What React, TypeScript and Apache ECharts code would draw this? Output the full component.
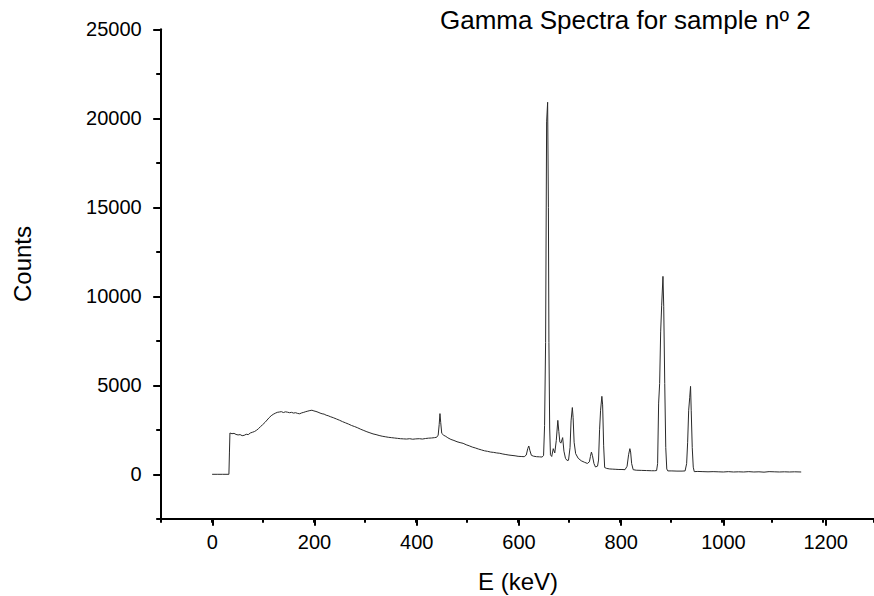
import React, { useEffect, useRef } from "react";
import * as echarts from "echarts";

const titleText = "Gamma Spectra for sample nº 2";
const xName = "E (keV)";
const yName = "Counts";

const energy = [
  0, 10, 20, 33, 34, 35, 39, 43, 47, 51, 55, 59, 63, 67, 71, 75, 79, 83, 87, 91,
  95, 99, 104, 108, 112, 116, 120, 124, 128, 132, 136, 140, 144, 148, 152, 156, 160, 164, 168, 172,
  176, 180, 184, 188, 192, 196, 200, 204, 208, 212, 216, 220, 224, 228, 232, 238, 244, 250, 256, 262,
  268, 274, 280, 286, 292, 298, 304, 310, 316, 322, 328, 334, 340, 346, 352, 358, 364, 370, 376, 382,
  388, 394, 400, 407, 413, 419, 425, 431, 437, 441, 444, 446, 447.5, 449, 451, 455, 459, 463, 469, 475,
  481, 487, 493, 499, 505, 511, 517, 523, 529, 535, 541, 547, 553, 559, 565, 571, 577, 583, 589, 595,
  601, 607, 613, 617, 620, 622, 624, 627, 631, 637, 643, 648, 651, 653, 655, 657, 659, 660.5, 661.5, 663,
  664.5, 667, 670, 673, 676, 679, 681, 683, 685, 688.5, 691, 694, 697, 700, 703, 705, 707.5, 709, 711, 714,
  719, 725, 731, 737, 741, 743, 745, 747, 750, 753, 757, 759, 761, 763, 765.5, 767, 769, 771, 775, 781,
  787, 793, 799, 805, 811, 815, 818, 820.5, 822, 824, 827, 833, 843, 853, 863, 869, 873, 875, 877, 879,
  881, 883, 885.5, 887, 889, 891, 893, 895, 903, 913, 923, 929, 932, 934, 936, 938, 939.7, 941, 943, 945,
  947, 954, 964, 974, 984, 994, 1004, 1014, 1024, 1034, 1044, 1054, 1064, 1074, 1084, 1094, 1104, 1114, 1124, 1134,
  1144, 1157,
];

const counts = [
  0, 0, 0, 0, 1200, 2320, 2280, 2300, 2240, 2210, 2230, 2170, 2190, 2250, 2230, 2320, 2360, 2400, 2470, 2560,
  2680, 2780, 2920, 3050, 3180, 3290, 3370, 3430, 3480, 3500, 3520, 3470, 3510, 3490, 3460, 3480, 3440, 3460, 3420, 3400,
  3450, 3480, 3520, 3550, 3580, 3600, 3560, 3530, 3490, 3440, 3400, 3380, 3320, 3290, 3240, 3180, 3110, 3040, 2960, 2890,
  2820, 2740, 2680, 2610, 2530, 2460, 2390, 2330, 2270, 2230, 2180, 2140, 2110, 2080, 2060, 2040, 2020, 2000, 1990, 1980,
  2000, 1970, 1990, 2000, 1980, 2010, 2030, 2040, 2060, 2080, 2200, 2800, 3410, 2900, 2300, 2190, 2130, 2050, 1960, 1900,
  1830, 1780, 1740, 1660, 1600, 1530, 1480, 1420, 1370, 1320, 1290, 1250, 1230, 1200, 1180, 1140, 1110, 1080, 1060, 1040,
  1010, 1000, 990, 1080, 1450, 1590, 1350, 1070, 1020, 990, 980, 970, 1050, 2750, 7400, 19800, 20900, 15000, 7400, 2600,
  1100, 1000, 1440, 1200, 1900, 3030, 2400, 1820, 1750, 2060, 1300, 900, 780, 790, 1500, 3000, 3750, 3200, 1800, 1160,
  900, 760, 680, 610, 700, 1000, 1250, 1050, 600, 410, 460, 800, 2500, 3600, 4380, 3900, 1600, 380, 330, 300,
  290, 280, 270, 270, 260, 450, 1100, 1440, 1250, 600, 260, 230, 220, 210, 200, 200, 210, 600, 4000, 5100,
  8000, 9500, 11120, 9440, 5100, 1500, 300, 190, 190, 180, 180, 190, 600, 1800, 3600, 4300, 4940, 3600, 1500, 400,
  150, 160, 150, 140, 150, 140, 130, 150, 130, 140, 130, 150, 130, 140, 120, 150, 140, 130, 140, 130,
  140, 130,
];

const xMajorTicks = [0, 200, 400, 600, 800, 1000, 1200];
const yMajorTicks = [0, 5000, 10000, 15000, 20000, 25000];

const FONT = "'Liberation Sans', Arial, sans-serif";

export default function App() {
  const ref = useRef<HTMLDivElement>(null);
  useEffect(() => {
    if (!ref.current) return;
    const chart = echarts.init(ref.current, null, { renderer: "svg" });
    const data = energy.map((e, i) => [e, counts[i]]);
    const axisLine = { show: true, onZero: false, lineStyle: { color: "#000", width: 2 } };
    const plain = (v: number) => String(v);
    chart.setOption({
      animation: false,
      backgroundColor: "#fff",
      textStyle: { fontFamily: FONT },
      grid: [
        { left: 161.2, right: -2.8, top: 29.3, bottom: 77.2, containLabel: false },
        { left: 212.3, right: 48.3, top: 29.3, bottom: 121.7, containLabel: false },
      ],
      xAxis: [
        {
          type: "value",
          gridIndex: 0,
          min: -100,
          max: 1300,
          interval: 100,
          axisLine,
          axisTick: { show: true, length: 4, lineStyle: { color: "#000", width: 2 } },
          axisLabel: { show: false },
          splitLine: { show: false },
        },
        {
          type: "value",
          gridIndex: 1,
          min: xMajorTicks[0],
          max: xMajorTicks[xMajorTicks.length - 1],
          interval: 200,
          offset: 44.5,
          axisLine: { show: false, onZero: false },
          axisTick: { show: true, length: 7, lineStyle: { color: "#000", width: 2 } },
          axisLabel: { show: true, color: "#000", fontSize: 20, fontFamily: FONT, margin: 13, formatter: plain },
          splitLine: { show: false },
        },
      ],
      yAxis: [
        {
          type: "value",
          gridIndex: 0,
          min: -2500,
          max: 25000,
          interval: 2500,
          axisLine,
          axisTick: { show: true, length: 5, lineStyle: { color: "#000", width: 2 } },
          axisLabel: { show: false },
          splitLine: { show: false },
        },
        {
          type: "value",
          gridIndex: 1,
          min: yMajorTicks[0],
          max: yMajorTicks[yMajorTicks.length - 1],
          interval: 5000,
          offset: 51.1,
          axisLine: { show: false, onZero: false },
          axisTick: { show: true, length: 8, lineStyle: { color: "#000", width: 2 } },
          axisLabel: { show: true, color: "#000", fontSize: 20, fontFamily: FONT, margin: 19.5, formatter: plain },
          splitLine: { show: false },
        },
      ],
      graphic: [
        {
          type: "text",
          left: 440,
          top: 7,
          style: { text: titleText, fill: "#000", font: `26px ${FONT}` },
        },
        {
          type: "text",
          x: 22,
          y: 264,
          rotation: Math.PI / 2,
          style: {
            text: yName,
            fill: "#000",
            font: `24px ${FONT}`,
            textAlign: "center",
            textVerticalAlign: "middle",
          },
        },
        {
          type: "text",
          x: 518,
          y: 581,
          style: {
            text: xName,
            fill: "#000",
            font: `24px ${FONT}`,
            textAlign: "center",
            textVerticalAlign: "middle",
          },
        },
      ],
      series: [
        {
          type: "line",
          xAxisIndex: 0,
          yAxisIndex: 0,
          data,
          showSymbol: false,
          symbol: "none",
          lineStyle: { color: "#2a2a2a", width: 1 },
          silent: true,
        },
      ],
    });
    return () => chart.dispose();
  }, []);
  return (
    <div
      ref={ref}
      style={{ position: "fixed", left: 0, top: 0, width: 874, height: 596, background: "#fff" }}
    />
  );
}
